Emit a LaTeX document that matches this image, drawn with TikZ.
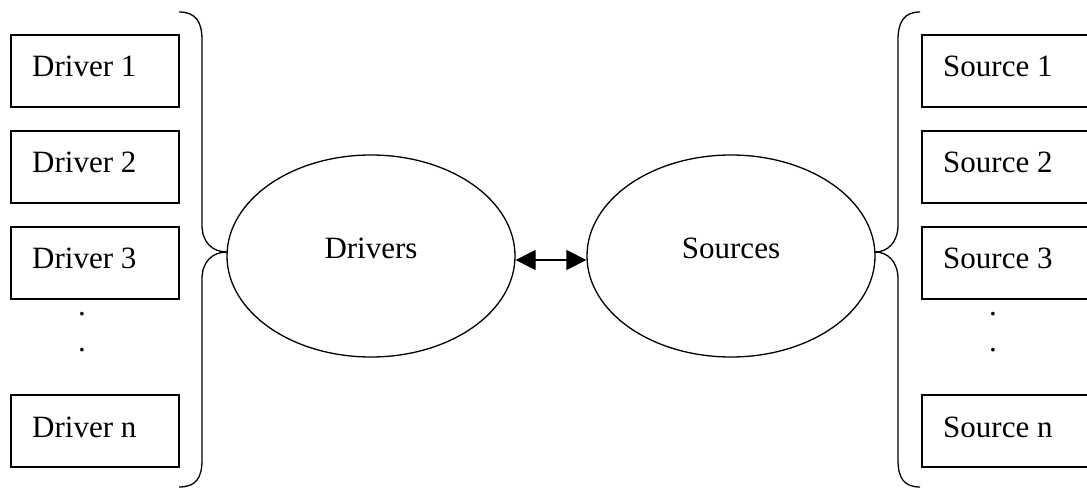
\documentclass[tikz,border=0pt]{standalone}
\usepackage{fontspec}
\setmainfont{Liberation Serif}
\usetikzlibrary{shapes.geometric,arrows.meta}
\begin{document}
\begin{tikzpicture}[x=1pt,y=-1pt,
  box/.style={draw,line width=1.3pt,minimum width=168pt,minimum height=72pt,inner sep=0pt},
  lbl/.style={anchor=base west,inner sep=0pt,font=\fontsize{31}{36}\selectfont},
  oval/.style={draw,ellipse,line width=1.3pt,minimum width=288pt,minimum height=202pt,inner sep=0pt,text depth=15pt,font=\fontsize{31}{36}\selectfont},
  brace/.style={line width=1.3pt},
  dot/.style={inner sep=0pt,font=\fontsize{31}{36}\selectfont}]
\useasboundingbox (0,0) rectangle (1087,489);
\clip (0,0) rectangle (1087,489);
% left boxes
\node[box] (d1) at (95,71) {};
\node[box] (d2) at (95,167) {};
\node[box] (d3) at (95,263) {};
\node[box] (dn) at (95,431) {};
\node[lbl] (d1t) at (32,77) {Driver 1};
\node[lbl] (d2t) at (32,173) {Driver 2};
\node[lbl] (d3t) at (32,269) {Driver 3};
\node[lbl] (dnt) at (32,437) {Driver n};
\node[dot] (dd1) at (82,314) {.};
\node[dot] (dd2) at (82,350) {.};
% right boxes
\node[box] (s1) at (1006,71) {};
\node[box] (s2) at (1006,167) {};
\node[box] (s3) at (1006,263) {};
\node[box] (sn) at (1006,431) {};
\node[lbl] (s1t) at (943,77) {Source 1};
\node[lbl] (s2t) at (943,173) {Source 2};
\node[lbl] (s3t) at (943,269) {Source 3};
\node[lbl] (snt) at (943,437) {Source n};
\node[dot] (sd1) at (993,314) {.};
\node[dot] (sd2) at (993,350) {.};
% ellipses
\node[oval] (drv) at (371,256) {Drivers};
\node[oval] (src) at (731,256) {Sources};
\draw[line width=1.3pt,{Triangle[length=20pt,width=20pt]}-{Triangle[length=20pt,width=20pt]}] ([yshift=-4pt]drv.east) -- ([yshift=-4pt]src.west);
% braces
\coordinate (lt) at (179,12);
\coordinate (lb) at (179,487);
\coordinate (ltip) at (227,252);
\draw[brace] (lt) .. controls (196,12) and (202,22) .. (202,40) -- (202,225) .. controls (202,242) and (212,252) .. (ltip)
  .. controls (212,252) and (202,262) .. (202,279) -- (202,460) .. controls (202,478) and (196,487) .. (lb);
\coordinate (rt) at (920,12);
\coordinate (rb) at (920,487);
\coordinate (rtip) at (875,252);
\draw[brace] (rt) .. controls (904,12) and (898,22) .. (898,40) -- (898,225) .. controls (898,242) and (888,252) .. (rtip)
  .. controls (888,252) and (898,262) .. (898,279) -- (898,460) .. controls (898,478) and (904,487) .. (rb);
\end{tikzpicture}
\end{document}
